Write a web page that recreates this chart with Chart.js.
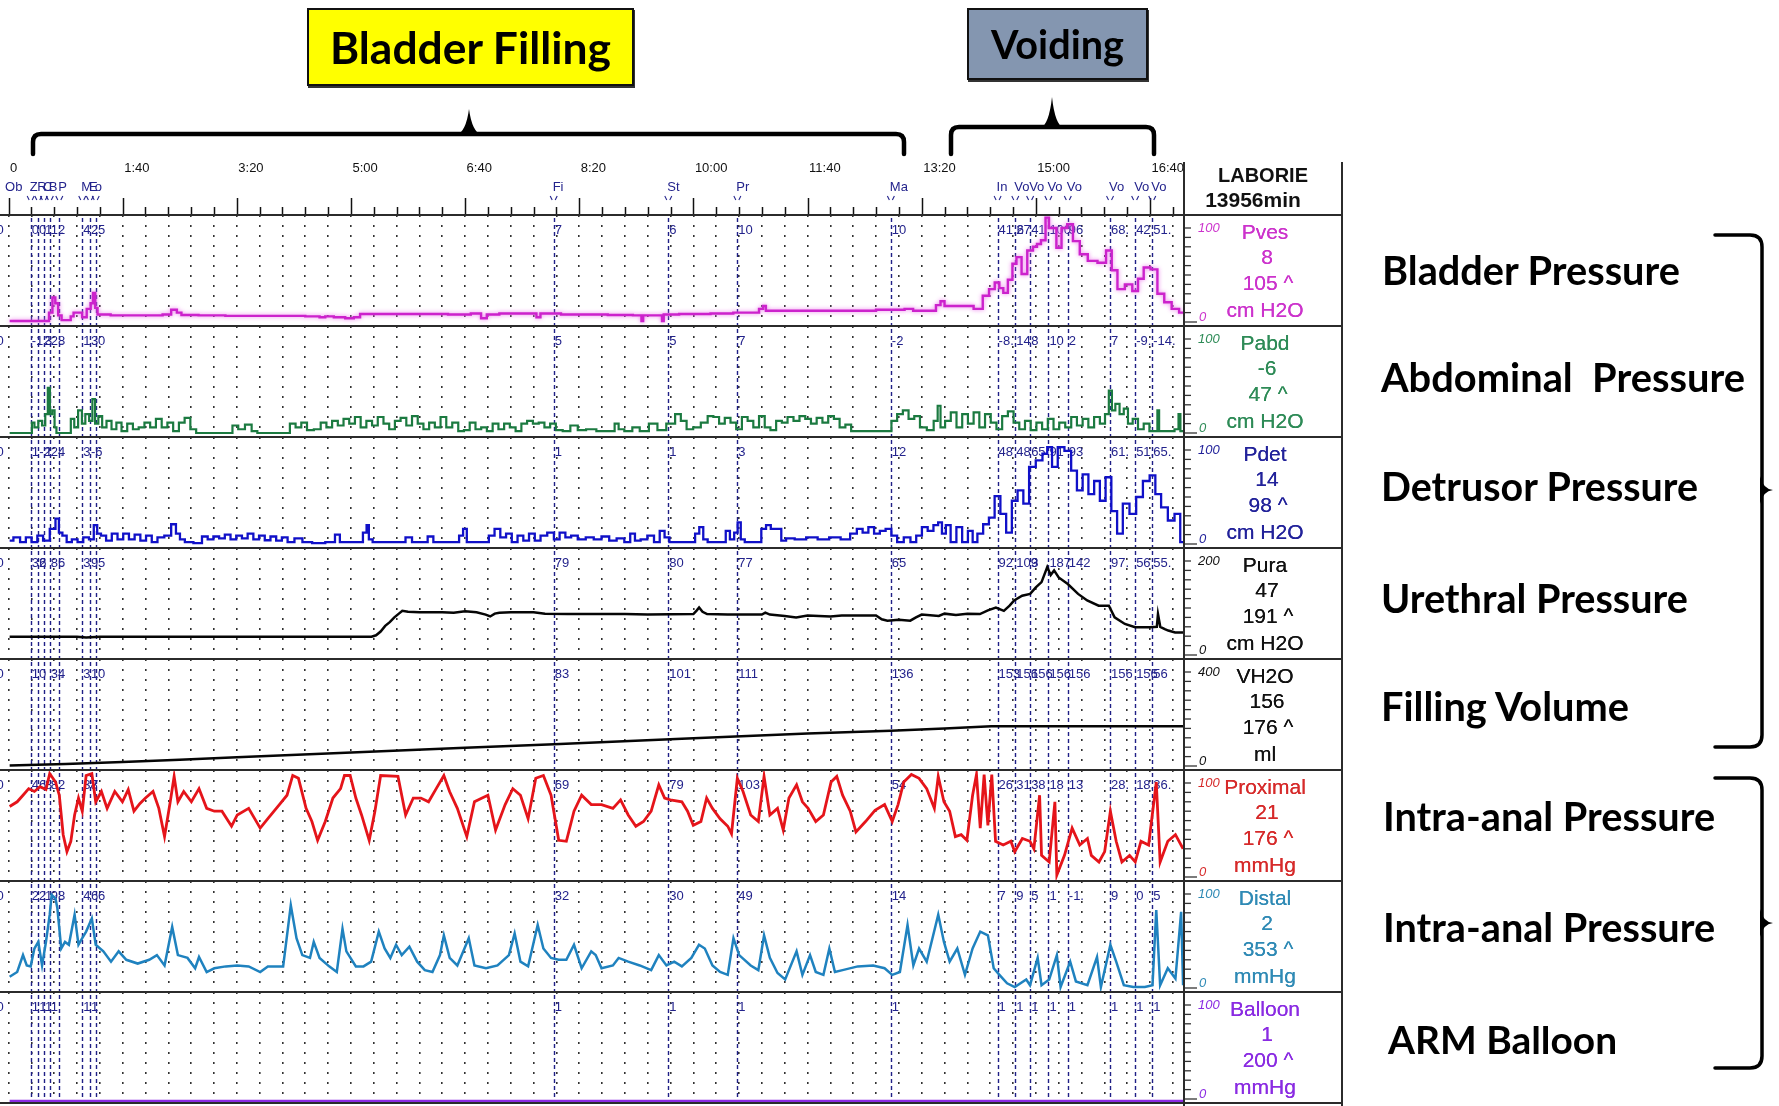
<!DOCTYPE html>
<html><head><meta charset="utf-8"><title>Urodynamic trace</title>
<script src="https://cdn.jsdelivr.net/npm/chart.js@4.4.1/dist/chart.umd.min.js"></script>
<style>
html,body{margin:0;padding:0;background:#fff;}
body{width:1779px;height:1106px;position:relative;overflow:hidden;font-family:"Liberation Sans",Arial,sans-serif;}
.a{position:absolute;white-space:pre;line-height:1;z-index:6;}
canvas{position:absolute;left:0;}
.hl{position:absolute;left:0;width:1343px;height:2px;background:#2b2b2b;z-index:5;}
.vl{position:absolute;width:2px;background:#2b2b2b;z-index:5;}
.ann{font-family:Lato,"Open Sans",sans-serif;font-weight:700;color:#000;}
.box{position:absolute;border:2px solid #111;box-sizing:border-box;display:flex;align-items:center;justify-content:center;z-index:6;box-shadow:1px 2px 0 #333;}
</style></head><body>
<svg id="deco" width="1779" height="1106" style="position:absolute;left:0;top:0;z-index:4"></svg>
<script>
// ---------------- DATA ----------------
const timeTickValues = [0,100,200,300,400,500,600,700,800,900,1000];
const timeTickLabels = ["0","1:40","3:20","5:00","6:40","8:20","10:00","11:40","13:20","15:00","16:40"];
const gridTimes = [0,20,40,60,80,100,120,140,160,180,200,220,240,260,280,300,320,340,360,380,400,420,440,460,480,500,520,540,560,580,600,620,640,660,680,700,720,740,760,780,800,820,840,860,880,900,920,940,960,980,1000,1020];

const eventTimes = [19.4,26.1,31,36.2,44.5,64.6,71.3,76.4,477.6,578,638.5,773,866.5,882,895,911,928,965,987,1002];
const eventNames = ["Z","R","C","B","P","M","E","o","Fi","St","Pr","Ma","In","Vo","Vo","Vo","Vo","Vo","Vo","Vo"];

const channelNames = ["Pves","Pabd","Pdet","Pura","VH2O","Proximal","Distal","Balloon"];
const channelScaleTop = [100,100,100,200,400,100,100,100];
const channelCurrent = ["8","-6","14","47","156","21","2","1"];
const channelMax = ["105","47","98","191","176","176","353","200"];
const channelUnits = ["cm H2O","cm H2O","cm H2O","cm H2O","ml","mmHg","mmHg","mmHg"];

const pvesMarks = ["00","","1","12",".","4","25","","7","6","10","10","41.6","27","41","100","96","68.","42","51."];
const pabdMarks = ["-12","","3","28",".","1","30","","5","5","7","-2","-8.","14","8","10","2","7","-9.","-14."];
const pdetMarks = ["1","-2","1","24",".","3","-6","","1","1","3","12","48","48","65","91","93","61.","51.","65."];
const puraMarks = ["32","6","","86",".","3","95","","79","80","77","65","92","109","3","187","142","97.","56","55."];
const vh2oMarks = ["10","","","34",".","3","10","","83","101","111","136","153","156","156","156","156","156","156","56"];
const proxMarks = ["46","","8","82","","38","7","","69","79","103","54","26","31","38","18","13","28.","18.","36."];
const distMarks = ["22","","1","98",".","4","66","","32","30","49","14","7","9","5","1","-1.","9","0","5"];
const ballMarks = ["1","1","1","1","","1","1","","1","1","1","1","1","1","1","1","1","1","1","1"];

const pves = [[1,1],[34,1],[37,10],[40,26],[42,20],[45,7],[48,2],[53,2],[56,6],[58,10],[63,10],[66,5],[71,14],[73,20],[75,31],[77,15],[79,8],[100,7],[130,7],[140,8],[145,13],[150,10],[153,7.5],[180,7],[200,6.5],[250,6.5],[270,6],[275,5],[280,6],[290,5],[300,4],[305,5],[311,8.5],[340,8.5],[370,8.5],[400,8],[410,9],[418,4],[420,8],[440,9],[460,9],[465,5],[467,9],[478,9],[490,8],[510,8],[540,7.5],[554,7],[555,1],[557,7],[572,7],[573,1],[575,8],[600,8.5],[630,9],[640,10],[655,10],[660,14],[662,17],[665,12],[700,12],[740,12],[780,13],[790,14],[795,12],[810,12],[815,18],[818,22],[822,17],[840,17],[851,14],[856,28],[862,35],[866,42],[870,36],[873,31],[878,45],[881,62],[885,69],[890,51],[895,76],[900,80],[902,83],[907,87],[910,111],[913,100],[916,100],[920,79],[925,100],[930,104],[935,86],[942,72],[949,65],[959,63],[964,76],[969,55],[974,35],[982,40],[987,33],[992,46],[997,58],[1004,56],[1009,30],[1016,21],[1022,14],[1029,10]];

const pabd = [[1,0],[20,0],[21,11],[24.4,6],[27.8,13],[31,8],[33.4,20],[35.5,48],[37.1,20],[39.5,24],[41.2,6],[42.8,0],[53,0],[56.2,15],[59,6],[63,24],[65.6,10],[69,20],[72.3,13],[74.7,36],[77,10],[80.4,18],[83.7,6],[88,13],[92.5,4],[96.5,11],[101.5,2],[106.5,10],[111.5,4],[116.6,6],[121.6,11],[126.6,6],[131.7,15],[136.7,6],[141.7,11],[146.8,2],[151.8,11],[156.8,16],[161.8,4],[167,0],[193.7,0],[198.7,8],[203.8,4],[210.5,9],[215.5,2],[220.5,0],[244,0],[249,10],[254,6],[259,11],[264,3],[271,4],[276,11],[281,6],[286,13],[291,8],[296,15],[301,10],[306,17],[311,6],[316,13],[321,8],[326,17],[331,10],[336,4],[341,13],[346,16],[351,8],[356,18],[361,10],[366,4],[371,11],[376,6],[381,17],[386,6],[391.5,11],[396.5,2],[401.5,3],[406.6,11],[411.6,4],[416.6,6],[421.6,2],[426.7,10],[431.7,4],[436.7,10],[441.7,6],[446.8,2],[451.8,10],[456.8,13],[462,10],[467,11],[472,6],[477,10],[482,3],[489,2],[495.4,8],[502,3],[510,4],[520,2],[529,2],[533,10],[536,4],[543,2],[550,6],[556,2],[566,10],[571,3],[581.5,10],[586.5,20],[591.5,13],[596.6,4],[603,6],[610,11],[615,18],[620,17],[625,10],[630,16],[635,11],[640,4],[645,17],[650,13],[655,6],[660,18],[665,6],[670,3],[675,13],[680,11],[685,17],[690.4,13],[695.5,18],[700.5,15],[705.5,10],[710.5,16],[715.6,11],[720.6,18],[725.6,15],[730.6,6],[735.7,9],[740.7,2],[771,2],[776,13],[781,20],[786,24],[791,15],[796,18],[801,6],[808,3],[813,13],[815,29],[818,6],[823,13],[828,22],[833,6],[838,20],[843,10],[848,22],[853,6],[858,20],[863,11],[868,4],[873,18],[878,23],[883,11],[888,4],[893,13],[898,3],[903,11],[908,4],[913,15],[918,4],[923,11],[928.5,6],[933.5,17],[938.5,8],[943.5,15],[948.5,6],[953.6,17],[958.6,10],[962.6,20],[965.3,45],[968,24],[971.3,31],[975.4,20],[978.7,26],[982.7,10],[987,15],[992,4],[997,10],[1002,2],[1006,2],[1007,24],[1009,2],[1019,2],[1024,4],[1026,20],[1027.3,2],[1029,2]];

const pdet = [[1,3.5],[7.6,7],[12.7,2],[17.7,7],[22.7,2],[27.8,9],[32.8,3.5],[39.5,16],[42.8,27],[45.5,12],[48.9,9],[53,2],[58,5],[63,2],[68,7],[73,5],[76.4,20],[79,11],[83,9],[88,3.5],[93,11],[98,5],[103,11],[108,5],[113,10],[118,3.5],[123,9],[128,2],[133,7],[140,9],[145,21],[148.4,11],[152,5],[157,2],[167,1],[172,8],[177,5],[182,8],[187,6],[192,10],[197,5],[202,9],[207,6],[212,11],[217,5],[222,9],[227,4],[232,8],[237,3.5],[242,7],[247,2],[254,6],[261,2],[271,1],[284,2],[288,10],[292.6,2],[308,2],[313,12],[314.4,20],[317,5],[321,2],[344.6,2],[351,7],[356,2],[364.7,2],[369.7,8],[374.7,2],[393,2],[396.5,9],[400,16],[403,2],[418.3,2],[423.3,9],[428.3,16],[433.4,7],[438.4,11],[443.4,2],[448.5,9],[453.5,3.5],[458.5,11],[463.6,3.5],[468.6,9],[475.3,12],[480.3,5],[485.3,12],[490.4,7],[495.4,9],[502,5],[509.4,7],[516,5],[523,8],[529.5,3.5],[536,6],[543,2],[546.3,11],[551.3,3.5],[556.3,5],[563,9],[568,2],[573,14],[576.5,7],[581.5,2],[600,2],[603,11],[607.3,18],[610,5],[615,2],[626.7,2],[630,14],[634,5],[637.5,12],[640,23],[643,5],[647,2],[657,2],[662,16],[665.3,20],[670.3,16],[675.3,16],[678.7,3.5],[683.7,6],[693.8,5],[703.8,7],[713.9,5],[724,7],[734,5],[740.7,11],[745.7,16],[750.8,12],[755.8,18],[760.8,11],[765.9,14],[770.9,16],[776,9],[781,2],[787.6,7],[792.7,2],[797.7,9],[802.7,18],[807.8,14],[812.8,20],[816,23],[819.5,11],[822.8,20],[827.9,2],[832.9,18],[838,2],[843,14],[846.3,2],[851.3,11],[856.4,21],[861.4,28],[866.4,51],[871.5,32],[876.5,12],[881.5,46],[886.5,57],[891.6,43],[896.6,82],[903.3,89],[908.3,96],[911.7,103],[916.7,82],[921.7,103],[928.4,99],[933.5,78],[938.5,57],[943.5,74],[948.6,53],[953.6,67],[958.6,46],[963.6,71],[968.7,35],[973.7,11],[978.7,43],[985.4,32],[990.4,50],[997.2,67],[1002.2,73],[1007.2,53],[1012.3,39],[1019,25],[1024,32],[1029,2]];

const pura = [[1,39],[60,39],[68,37],[80,39],[318,39],[322,42],[326,50],[330,62],[334,70],[338,80],[342,88],[345,94],[350,92],[360,91],[380,91],[390,90],[400,93],[410,91],[418,86],[422,82],[426,88],[430,90],[440,91],[460,91],[470,88],[490,87],[540,87],[560,86],[600,87],[603,95],[605,101],[608,92],[612,87],[630,86],[660,86],[663,90],[667,86],[680,83],[690,80],[700,84],[720,82],[730,84],[760,84],[765,76],[770,73],[780,75],[790,73],[795,80],[800,86],[815,83],[820,88],[830,85],[840,88],[851,87],[858,95],[865,101],[872,94],[877,105],[881,116],[888,126],[895,130],[900,144],[905,155],[910,187],[913,170],[916,180],[920,165],[928,151],[937,130],[945,116],[955,105],[964,105],[969,80],[978,66],[987,59],[1000,59],[1006,60],[1007,87],[1009,60],[1013,55],[1016,52],[1022,48],[1029,48]];

const vh2o = [[1,2],[50,8],[100,17],[150,27],[200,37],[290,55],[400,78],[478,93],[600,118],[700,138],[773,150],[820,160],[861,169],[1029,169]];

const proximal = [[1,75],[7.6,80],[12.7,87],[17.7,94],[22.7,91],[27.7,96],[32.8,93],[36.1,110],[41.2,101],[44.5,87],[47.9,45],[51.2,27],[54.6,38],[57.9,66],[61.3,84],[64.6,70],[68,108],[73,110],[76.4,80],[81.4,91],[86.4,73],[93.1,91],[99.8,80],[104.9,93],[109.9,70],[115,78],[120,84],[126.6,91],[131.7,73],[136.7,43],[141.7,80],[145.1,107],[148.4,80],[153.5,91],[160.2,80],[166.9,94],[173.6,73],[180.3,70],[187,70],[195.4,54],[200.4,66],[210.4,73],[220.5,52],[227.2,62],[237.3,77],[244,87],[249,108],[254,105],[260.7,73],[265.8,59],[270.8,39],[277.5,59],[284.2,84],[290.9,94],[294.3,108],[299.3,108],[304.3,84],[309.3,66],[316,39],[321,70],[326,108],[341.2,107],[347.9,66],[354.6,84],[361.3,84],[368,80],[374.7,94],[381.4,108],[386.4,91],[393.2,73],[401.5,43],[408.2,80],[414.9,84],[420,87],[426.7,50],[435.1,77],[441.8,94],[448.5,87],[455.2,62],[461.9,105],[468.6,108],[475.3,87],[482,39],[488.7,38],[495.4,70],[502.1,87],[510.5,77],[519.5,77],[529.5,73],[536.2,82],[542.9,66],[549.6,54],[556.3,59],[563,70],[569.7,98],[574.8,84],[579.8,82],[589.9,80],[594.9,70],[599.9,55],[606.6,59],[611.6,84],[616.7,73],[623.4,62],[630.1,54],[633.4,46],[638.5,105],[643.5,91],[650.2,66],[656.9,59],[661.9,107],[667,66],[673.7,73],[678.7,50],[683.7,84],[690.4,98],[695.5,80],[700.5,73],[707.2,59],[713.9,66],[720.6,101],[725.6,107],[730.7,87],[737.4,70],[742.4,48],[750.8,59],[759.1,71],[767.5,77],[774.2,59],[779.3,77],[784.3,101],[791,109],[797.7,105],[804.4,94],[811.1,73],[814.5,107],[819.5,80],[824.5,70],[829.5,43],[834.6,45],[839.6,39],[844.6,87],[848,109],[851.3,52],[854.7,109],[858,55],[861.4,109],[864.7,38],[871.4,34],[878.1,38],[881.5,27],[888.2,41],[894.9,38],[898.3,30],[903.3,87],[905,23],[911.7,16],[916.7,80],[918.4,2],[925.1,23],[931.8,52],[938.5,34],[945.2,41],[948.6,23],[955.3,16],[960.3,27],[965.3,70],[970.4,38],[975.4,16],[982.1,23],[987.1,16],[992.1,38],[998.8,34],[1005.5,101],[1008.9,16],[1015.6,38],[1022.3,45],[1029,30]];

const distal = [[1,12],[7.6,17],[12.7,35],[16,24],[19.4,23],[22.7,42],[26.1,49],[29.4,24],[32.8,49],[36.1,78],[37.8,99],[41.2,95],[42.8,85],[46.2,42],[49.5,49],[52.9,46],[57.9,78],[61.3,46],[64.6,53],[68,60],[73,74],[76.4,46],[83.1,39],[89.8,28],[96.5,39],[103.2,30],[113.2,26],[123.3,30],[130,35],[136.7,24],[143.4,65],[148.4,35],[156.8,32],[163.5,21],[166.9,33],[173.6,17],[180.3,21],[190.3,23],[200.4,24],[210.4,23],[220.5,17],[227.2,23],[240.6,23],[247.3,88],[252.3,53],[257.4,35],[264.1,32],[267.4,49],[272.5,32],[280.9,23],[287.6,17],[292.6,63],[296,39],[304.3,23],[311,23],[317.7,28],[324.4,60],[329.5,42],[334.5,32],[339.5,46],[344.5,35],[351.2,44],[358,28],[364.7,19],[371.4,17],[378,35],[381.4,56],[386.5,32],[393.2,24],[403.2,53],[408.2,24],[418.3,21],[428.4,24],[438.4,35],[443.4,58],[448.5,28],[455.2,23],[463.6,67],[468.6,42],[475.3,32],[482,30],[488.7,30],[495.4,46],[502.1,21],[510.5,39],[514.4,35],[519.5,21],[529.5,24],[534.5,32],[542.9,28],[553,24],[563,19],[569.7,35],[576.4,24],[583.2,28],[589.9,23],[598.2,32],[604.9,46],[610,42],[616.7,24],[623.4,17],[630.1,14],[635.1,53],[640.1,35],[650.2,24],[656.9,19],[661.9,56],[667,32],[673.7,16],[680.4,9],[690.4,39],[695.5,14],[702.2,35],[707.2,17],[713.9,14],[719.1,42],[724,17],[730.7,19],[744,23],[757.5,24],[767.5,21],[774.2,14],[780.9,17],[787.6,67],[792.7,24],[797.7,42],[804.4,28],[814.5,78],[819.5,49],[824.5,28],[831.2,42],[837.9,14],[844.6,42],[851.3,60],[858,56],[863.1,21],[868.1,14],[874.8,5],[881.5,1],[891.6,9],[894.9,3],[901.6,32],[905,3],[911.7,9],[918.4,35],[921.7,1],[930.1,28],[935.1,7],[945.2,3],[953.6,33],[957,1],[965.3,46],[970.4,28],[977.1,3],[985.4,1],[995.5,1],[1002.2,3],[1005.5,83],[1008.9,3],[1015.6,21],[1022.3,10],[1027.3,81],[1029,3]];

const balloon = [[1,-2],[1029,-2]];

const sideLabels = ["Bladder Pressure","Abdominal  Pressure","Detrusor Pressure","Urethral Pressure","Filling Volume","Intra-anal Pressure","Intra-anal Pressure","ARM Balloon"];
const phaseLabels = ["Bladder Filling","Voiding"];
const headerTitle = ["LABORIE","13956min"];

// ---------------- STYLE / LAYOUT ----------------
const XMIN = -7.45, XMAX = 1029.8;
const PLOT_W = 1184, P0 = 215, PH = 111;
const series = [pves,pabd,pdet,pura,vh2o,proximal,distal,balloon];
const marks = [pvesMarks,pabdMarks,pdetMarks,puraMarks,vh2oMarks,proxMarks,distMarks,ballMarks];
const traceColors = ['#cc22cc','#1b7a40','#1010c8','#050505','#050505','#e5141a','#1f82bf','#8b2be2'];
const labelColors = ['#cc33cc','#2e8b57','#22229a','#111111','#111111','#d62a2a','#2f8ab5','#8a2be2'];
const traceWidths = [2.4,2.2,2.3,2.5,2.5,2.8,2.5,2.5];
const traceStepped = ['middle','middle','middle',false,false,false,false,false];
const NAVY = '#23238c';

const panelDecor = {
  id: 'panelDecor',
  beforeDatasetsDraw(chart, args, opts) {
    const ctx = chart.ctx, xs = chart.scales.x, H = chart.height;
    ctx.save();
    ctx.strokeStyle = '#1f1f86'; ctx.lineWidth = 1.4; ctx.setLineDash([4,3]);
    eventTimes.forEach(t => {
      const x = Math.round(xs.getPixelForValue(t)) + 0.5;
      ctx.beginPath(); ctx.moveTo(x, 3); ctx.lineTo(x, H); ctx.stroke();
    });
    ctx.setLineDash([]);
    ctx.font = '13px "Liberation Sans", Arial, sans-serif';
    ctx.fillStyle = NAVY; ctx.textBaseline = 'middle';
    ctx.fillText('0', xs.getPixelForValue(-10.5), 15);
    (opts.marks || []).forEach((s, i) => { if (s) ctx.fillText(s, xs.getPixelForValue(eventTimes[i]) + 1, 15); });
    ctx.restore();
  },
  beforeDatasetDraw(chart, args, opts) {
    if (opts.glow) { chart.ctx.save(); chart.ctx.shadowColor = opts.glow; chart.ctx.shadowBlur = 4; }
  },
  afterDatasetDraw(chart, args, opts) {
    if (opts.glow) chart.ctx.restore();
  }
};

const headerDecor = {
  id: 'headerDecor',
  afterDraw(chart) {
    const ctx = chart.ctx, xs = chart.scales.x, H = chart.height;
    ctx.save();
    ctx.strokeStyle = '#111'; ctx.lineWidth = 1.5;
    gridTimes.forEach(t => {
      const x = Math.round(xs.getPixelForValue(t)) + 0.5;
      const major = timeTickValues.includes(t);
      ctx.beginPath(); ctx.moveTo(x, major ? H - 16 : H - 7); ctx.lineTo(x, H); ctx.stroke();
    });
    ctx.font = '13px "Liberation Sans", Arial, sans-serif';
    ctx.textBaseline = 'middle'; ctx.fillStyle = '#111';
    timeTickValues.forEach((t, i) => ctx.fillText(timeTickLabels[i], xs.getPixelForValue(t) + 1.5, 28));
    ctx.fillStyle = NAVY;
    ctx.fillText('Ob', xs.getPixelForValue(-3), 47);
    eventNames.forEach((n, i) => ctx.fillText(n, xs.getPixelForValue(eventTimes[i]) - 1, 47));
    ctx.strokeStyle = NAVY; ctx.lineWidth = 1.1;
    eventTimes.forEach(t => {
      const x = xs.getPixelForValue(t);
      ctx.beginPath(); ctx.moveTo(x - 3.5, 56); ctx.lineTo(x - 1.5, 60); ctx.stroke();
      ctx.beginPath(); ctx.moveTo(x + 3.5, 56); ctx.lineTo(x + 1.5, 60); ctx.stroke();
    });
    ctx.restore();
  }
};

function el(tag, cls, css, text) {
  const e = document.createElement(tag);
  if (cls) e.className = cls;
  Object.assign(e.style, css);
  if (text !== undefined) e.textContent = text;
  document.body.appendChild(e);
  return e;
}

// header chart (time axis)
const hc = el('canvas', '', {top: '140px'});
hc.width = PLOT_W; hc.height = 74;
new Chart(hc, {
  type: 'line', data: {datasets: []},
  options: {responsive: false, animation: false, events: [], layout: {padding: 0},
    plugins: {legend: {display: false}, tooltip: {enabled: false}},
    scales: {x: {type: 'linear', min: XMIN, max: XMAX, display: false}, y: {display: false}}},
  plugins: [headerDecor]
});

// panel charts
series.forEach((data, i) => {
  const c = el('canvas', '', {top: (P0 + PH * i) + 'px'});
  c.width = PLOT_W; c.height = PH;
  const ppu = 94 / channelScaleTop[i];
  const ymin = -4 / ppu, ymax = ymin + PH / ppu;
  new Chart(c, {
    type: 'line',
    data: {datasets: [{data: data.map(p => ({x: p[0], y: p[1]})), borderColor: traceColors[i],
      borderWidth: traceWidths[i], pointRadius: 0, tension: 0, fill: false, stepped: traceStepped[i],
      borderJoinStyle: 'miter'}]},
    options: {responsive: false, animation: false, events: [], layout: {padding: 0},
      plugins: {legend: {display: false}, tooltip: {enabled: false},
        panelDecor: {marks: marks[i], glow: i === 0 ? 'rgba(235,110,235,0.9)' : null}},
      scales: {
        x: {type: 'linear', min: XMIN, max: XMAX,
          afterBuildTicks: sc => { sc.ticks = gridTimes.map(v => ({value: v})); },
          afterFit: sc => { sc.height = 0; },
          ticks: {display: false},
          grid: {color: '#333', lineWidth: 1.6, drawTicks: false},
          border: {display: false, dash: [2, 8]}},
        y: {type: 'linear', min: ymin, max: ymax, display: false}
      }},
    plugins: [panelDecor]
  });
});

// separators and frame
for (let i = 0; i <= 8; i++) el('div', 'hl', {top: (214 + PH * i) + 'px'});
el('div', 'vl', {left: '1183px', top: '162px', height: '944px'});
el('div', 'vl', {left: '1341px', top: '162px', height: '944px'});

// right column
const svg = document.getElementById('deco');
const NS = 'http://www.w3.org/2000/svg';
function sv(tag, attrs) { const e = document.createElementNS(NS, tag); for (const k in attrs) e.setAttribute(k, attrs[k]); svg.appendChild(e); return e; }

el('div', 'a', {left: '1263px', top: '175px', transform: 'translate(-50%,-50%)', font: 'bold 20px "Liberation Sans",Arial,sans-serif', color: '#111'}, headerTitle[0]);
el('div', 'a', {left: '1253px', top: '200px', transform: 'translate(-50%,-50%)', font: 'bold 21px "Liberation Sans",Arial,sans-serif', color: '#111'}, headerTitle[1]);

channelNames.forEach((name, i) => {
  const P = P0 + PH * i, col = labelColors[i];
  for (let k = 0; k <= 10; k++) {
    const y = P + 107 - 9.4 * k;
    sv('line', {x1: 1185, y1: y, x2: k === 0 ? 1197 : 1191, y2: y, stroke: '#333', 'stroke-width': 1.3});
  }
  el('div', 'a', {left: '1198px', top: (P + 12) + 'px', transform: 'translateY(-50%)', font: 'italic 13px "Liberation Sans",Arial,sans-serif', color: col}, String(channelScaleTop[i]));
  el('div', 'a', {left: '1199px', top: (P + 101) + 'px', transform: 'translateY(-50%)', font: 'italic 13px "Liberation Sans",Arial,sans-serif', color: col}, '0');
  const f = '21px "Liberation Sans",Arial,sans-serif';
  const sh = '0 0 0.4px ' + col;
  el('div', 'a', {left: '1265px', top: (P + 17) + 'px', transform: 'translate(-50%,-50%)', font: f, color: col, textShadow: sh}, name);
  el('div', 'a', {left: '1267px', top: (P + 42) + 'px', transform: 'translate(-50%,-50%)', font: f, color: col, textShadow: sh}, channelCurrent[i]);
  el('div', 'a', {left: '1268px', top: (P + 68) + 'px', transform: 'translate(-50%,-50%)', font: f, color: col, textShadow: sh}, channelMax[i] + ' ^');
  el('div', 'a', {left: '1265px', top: (P + 95) + 'px', transform: 'translate(-50%,-50%)', font: f, color: col, textShadow: sh}, channelUnits[i]);
});

// annotations
function fit(e, w) {
  const r = e.getBoundingClientRect().width;
  const fs = parseFloat(e.style.fontSize);
  if (r > 0) e.style.fontSize = (fs * w / r).toFixed(2) + 'px';
}
const fits = [];
const sideX = [1382,1381,1381,1381,1381,1383,1383,1388];
const sideY = [270,377,486,598,706,816,927,1039];
const sideW = [298,364,317,307,248,332,332,229];
sideLabels.forEach((t, i) => {
  const e = el('div', 'a ann', {left: sideX[i] + 'px', top: sideY[i] + 'px', transform: 'translateY(-50%)', fontSize: '34px'}, t);
  fits.push([e, sideW[i]]);
});
const b1 = el('div', 'box', {left: '307px', top: '8px', width: '327px', height: '78px', background: '#ffff00'});
const s1 = document.createElement('span'); s1.className = 'ann'; s1.style.fontSize = '38px'; s1.style.whiteSpace = 'pre'; s1.style.lineHeight = '1'; s1.textContent = phaseLabels[0]; b1.appendChild(s1);
const b2 = el('div', 'box', {left: '967px', top: '8px', width: '181px', height: '72px', background: '#8496b0'});
const s2 = document.createElement('span'); s2.className = 'ann'; s2.style.fontSize = '36px'; s2.style.whiteSpace = 'pre'; s2.style.lineHeight = '1'; s2.textContent = phaseLabels[1]; b2.appendChild(s2);
fits.push([s1, 281], [s2, 133]);
function doFit() { fits.forEach(([e, w]) => fit(e, w)); }
doFit();
if (document.fonts && document.fonts.ready) document.fonts.ready.then(doFit);

// brackets
const bstyle = {fill: 'none', stroke: '#000', 'stroke-linecap': 'round', 'stroke-linejoin': 'round'};
sv('path', Object.assign({d: 'M33,154 V142 Q33,134 41,134 H896 Q904,134 904,142 V154', 'stroke-width': 4.5}, bstyle));
sv('path', {d: 'M456,135.5 Q466,132 469,109 Q472,132 482,135.5 Z', fill: '#000'});
sv('path', Object.assign({d: 'M951,154 V135 Q951,127 959,127 H1146 Q1154,127 1154,135 V154', 'stroke-width': 4.5}, bstyle));
sv('path', {d: 'M1040,128.5 Q1049,125 1052,97 Q1055,125 1064,128.5 Z', fill: '#000'});
sv('path', Object.assign({d: 'M1715,235 H1750 Q1762,235 1762,247 V735 Q1762,747 1750,747 H1715', 'stroke-width': 3.5}, bstyle));
sv('path', {d: 'M1760,476 Q1763,489 1773,490 Q1763,491 1760,504 Z', fill: '#000'});
sv('path', Object.assign({d: 'M1715,778 H1750 Q1762,778 1762,790 V1056 Q1762,1068 1750,1068 H1715', 'stroke-width': 3.5}, bstyle));
sv('path', {d: 'M1760,909 Q1763,922 1773,923 Q1763,924 1760,937 Z', fill: '#000'});
</script>
</body></html>
